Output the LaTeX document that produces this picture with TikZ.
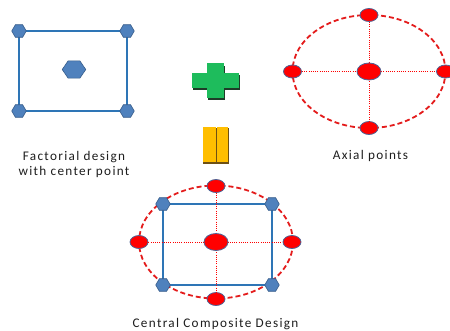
\documentclass[tikz,border=0pt]{standalone}
\usepackage{fontspec}
\setmainfont{Carlito}[LetterSpace=10]
\usetikzlibrary{shapes.geometric}
\definecolor{lblue}{RGB}{46,117,182}
\definecolor{hexfill}{RGB}{79,129,189}
\definecolor{hexedge}{RGB}{56,93,138}
\definecolor{dotred}{RGB}{255,0,0}
\definecolor{ringred}{RGB}{228,28,28}
\definecolor{dotedge}{RGB}{80,100,150}
\definecolor{plusgreen}{RGB}{30,188,92}
\definecolor{plusshadow}{RGB}{30,60,40}
\definecolor{eqyellow}{RGB}{255,190,0}
\definecolor{eqshadow}{RGB}{110,80,20}
\definecolor{txt}{RGB}{30,30,30}
\begin{document}
\begin{tikzpicture}[x=1pt,y=-1pt,
  hexsmall/.style={regular polygon,regular polygon sides=6,minimum size=14.5pt,inner sep=0pt,
    fill=hexfill,draw=hexedge,line width=0.6pt},
  hexbig/.style={regular polygon,regular polygon sides=6,minimum size=21pt,inner sep=0pt,
    fill=hexfill,draw=hexedge,line width=0.6pt,xscale=1.12,yscale=0.95,transform shape},
  dotsmall/.style={ellipse,minimum width=18pt,minimum height=13pt,inner sep=0pt,
    fill=dotred,draw=dotedge,line width=0.8pt},
  dotbig/.style={ellipse,minimum width=24pt,minimum height=17pt,inner sep=0pt,
    fill=dotred,draw=dotedge,line width=0.8pt},
  cube/.style={draw=lblue,line width=1.6pt},
  circ/.style={draw=ringred,line width=1.8pt,dash pattern=on 5pt off 3pt},
  axis/.style={draw=dotred,line width=0.5pt,dash pattern=on 1pt off 1.2pt},
  lbl/.style={text=txt,font=\fontsize{13.2}{15}\selectfont,anchor=base,inner sep=0pt}]
\useasboundingbox (0,0) rectangle (450,330);
\clip (0,0) rectangle (450,330);
\fill[white] (0,0) rectangle (450,330);

% ---------- Factorial design ----------
\coordinate (f1) at (19,31);
\coordinate (f2) at (127,31);
\coordinate (f3) at (127,111);
\coordinate (f4) at (19,111);
\draw[cube] (f1) -- (f2) -- (f3) -- (f4) -- cycle;
\node[hexsmall] (fh1) at (f1) {};
\node[hexsmall] (fh2) at (f2) {};
\node[hexsmall] (fh3) at (f3) {};
\node[hexsmall] (fh4) at (f4) {};
\node[hexbig] (fc) at (74,69.5) {};
\node[lbl] (flbl1) at (74,160) {Factorial design};
\node[lbl] (flbl2) at (74,175) {with center point};

% ---------- plus ----------
\fill[plusshadow] (208,66) rectangle (225,100);
\fill[plusshadow] (193,75) rectangle (240,90);
\fill[plusgreen] (207,63) rectangle (224,98);
\fill[plusgreen] (192,73) rectangle (239,88);

% ---------- equals (vertical) ----------
\fill[eqshadow] (203,128) rectangle (216.5,164);
\fill[eqshadow] (216.5,128) rectangle (228.5,164);
\fill[eqyellow] (203,127) rectangle (215.5,161.5);
\fill[eqyellow] (217.3,127) rectangle (228,161.5);

% ---------- Axial points ----------
\coordinate (ac) at (369,71.5);
\draw[circ] (ac) ellipse [x radius=76.5pt, y radius=56.5pt];
\node[dotsmall] (at) at (369,15) {};
\node[dotsmall] (ab) at (369,128) {};
\node[dotsmall] (al) at (292.5,71.5) {};
\node[dotsmall] (ar) at (445.5,71.5) {};
\draw[axis] (al) -- (ar);
\draw[axis] (at) -- (ab);
\node[dotbig] (acn) at (ac) {};
\node[lbl] (albl) at (370.5,159) {Axial points};

% ---------- CCD ----------
\coordinate (cc) at (216,242);
\draw[circ] (cc) ellipse [x radius=77pt, y radius=56.5pt];
\coordinate (c1) at (163,204);
\coordinate (c2) at (272,204);
\coordinate (c3) at (272,285);
\coordinate (c4) at (163,285);
\draw[cube] (c1) -- (c2) -- (c3) -- (c4) -- cycle;
\node[dotsmall] (ct) at (216,186) {};
\node[dotsmall] (cb) at (216,299) {};
\node[dotsmall] (cl) at (139,242) {};
\node[dotsmall] (cr) at (292,242) {};
\draw[axis] (cl) -- (cr);
\draw[axis] (ct) -- (cb);
\node[hexsmall] (ch1) at (c1) {};
\node[hexsmall] (ch2) at (c2) {};
\node[hexsmall] (ch3) at (c3) {};
\node[hexsmall] (ch4) at (c4) {};
\node[dotbig] (ccn) at (cc) {};
\node[lbl] (clbl) at (215.5,327) {Central Composite Design};
\end{tikzpicture}
\end{document}
